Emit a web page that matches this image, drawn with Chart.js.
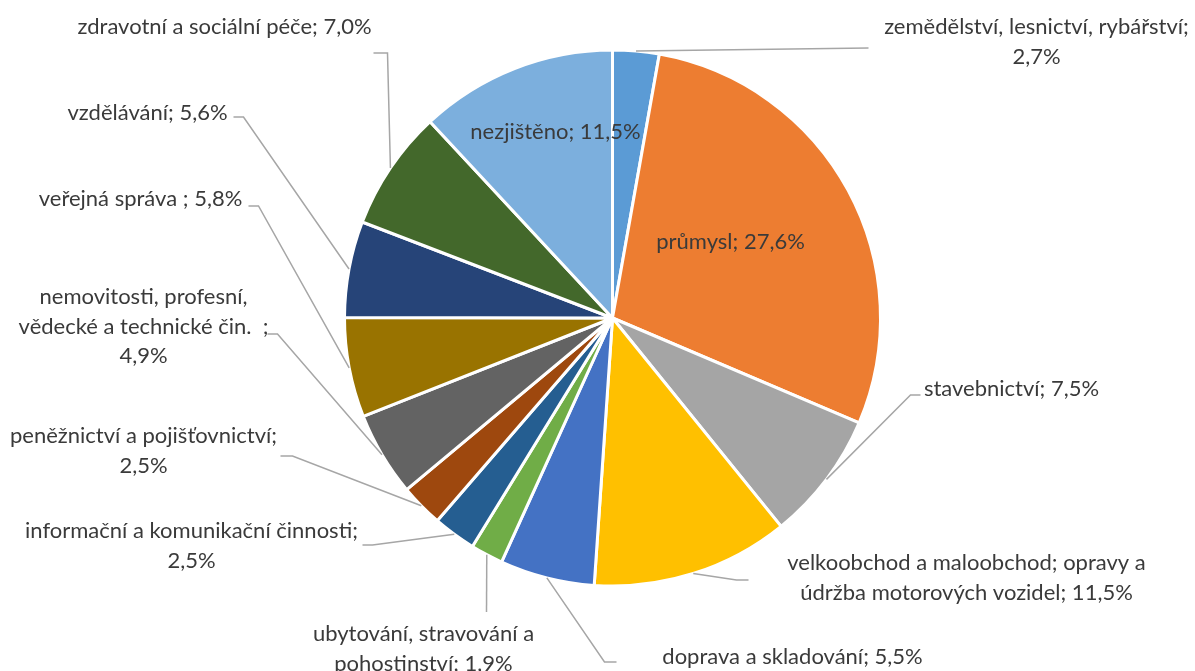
<!DOCTYPE html>
<html>
<head>
<meta charset="utf-8">
<script src="https://cdn.jsdelivr.net/npm/chart.js@4/dist/chart.umd.min.js"></script>
<style>
  html, body { margin: 0; padding: 0; background: #ffffff; }
  #wrap { width: 1195px; height: 671px; position: relative; }
</style>
</head>
<body>
<div id="wrap"><canvas id="c" width="1195" height="671"></canvas></div>
<script>
// ---- data ----
const categories = [
  "zemědělství, lesnictví, rybářství",
  "průmysl",
  "stavebnictví",
  "velkoobchod a maloobchod; opravy a údržba motorových vozidel",
  "doprava a skladování",
  "ubytování, stravování a pohostinství",
  "informační a komunikační činnosti",
  "peněžnictví a pojišťovnictví",
  "nemovitosti, profesní, vědecké a technické čin.",
  "veřejná správa",
  "vzdělávání",
  "zdravotní a sociální péče",
  "nezjištěno"
];
const values = [2.7, 27.6, 7.5, 11.5, 5.5, 1.9, 2.5, 2.5, 4.9, 5.8, 5.6, 7.0, 11.5];
const valueLabels = ["2,7%", "27,6%", "7,5%", "11,5%", "5,5%", "1,9%", "2,5%", "2,5%", "4,9%", "5,8%", "5,6%", "7,0%", "11,5%"];
// label text lines as shown in the chart
const labelLines = [
  ["zemědělství, lesnictví, rybářství;", "2,7%"],
  ["průmysl; 27,6%"],
  ["stavebnictví; 7,5%"],
  ["velkoobchod a maloobchod; opravy a", "údržba motorových vozidel; 11,5%"],
  ["doprava a skladování; 5,5%"],
  ["ubytování, stravování a", "pohostinství; 1,9%"],
  ["informační a komunikační činnosti;", "2,5%"],
  ["peněžnictví a pojišťovnictví;", "2,5%"],
  ["nemovitosti, profesní,", "vědecké a technické čin.  ;", "4,9%"],
  ["veřejná správa ; 5,8%"],
  ["vzdělávání; 5,6%"],
  ["zdravotní a sociální péče; 7,0%"],
  ["nezjištěno; 11,5%"]
];
const colors = ["#5B9BD5", "#ED7D31", "#A5A5A5", "#FFC000", "#4472C4", "#70AD47", "#255E91",
                "#9E480E", "#636363", "#997300", "#264478", "#43682B", "#7CAFDD"];

// ---- label layout (offsets relative to pie centre) ----
// text: centre of first line; leader: points after the arc anchor
const layout = [
  { text: [424, -291], leader: [[256, -270]] },
  { text: [118, -76], leader: null },
  { text: [399, 71], leader: [[298, 77], [308, 77]] },
  { text: [354, 245], leader: [[124, 262], [136, 262]] },
  { text: [180, 339], leader: [[-8, 344], [4, 344]] },
  { text: [-189, 316], leader: [[-126, 294]] },
  { text: [-421, 213], leader: [[-240, 227], [-250, 227]] },
  { text: [-469, 118], leader: [[-320, 138], [-332, 138]] },
  { text: [-469, -21], leader: [[-335, 16], [-345, 16]] },
  { text: [-472, -119], leader: [[-354, -112], [-364, -112]] },
  { text: [-465, -205], leader: [[-369, -201], [-379, -201]] },
  { text: [-388, -291], leader: [[-225, -265], [-239, -265]] },
  { text: [-57, -186], leader: null }
];

const FONT_FAMILY = "Lato, 'Open Sans', sans-serif";
const FONT_SIZE = 22;
const LINE_H = 29.5;

const labelPlugin = {
  id: 'excelLabels',
  afterDatasetsDraw(chart) {
    const ctx = chart.ctx;
    const meta = chart.getDatasetMeta(0);
    ctx.save();
    meta.data.forEach((arc, i) => {
      const p = arc.getProps(['x', 'y', 'startAngle', 'endAngle', 'outerRadius'], true);
      const mid = (p.startAngle + p.endAngle) / 2;
      const ax = p.x + Math.cos(mid) * p.outerRadius;
      const ay = p.y + Math.sin(mid) * p.outerRadius;
      const L = layout[i];
      if (L.leader) {
        ctx.beginPath();
        ctx.strokeStyle = '#A6A6A6';
        ctx.lineWidth = 1.5;
        ctx.moveTo(ax, ay);
        L.leader.forEach(pt => ctx.lineTo(p.x + pt[0], p.y + pt[1]));
        ctx.stroke();
      }
      ctx.fillStyle = '#3A3A3A';
      ctx.font = FONT_SIZE + 'px ' + FONT_FAMILY;
      ctx.textAlign = 'center';
      ctx.textBaseline = 'middle';
      labelLines[i].forEach((line, k) => {
        ctx.fillText(line, p.x + L.text[0], p.y + L.text[1] + k * LINE_H);
      });
    });
    ctx.restore();
  }
};

new Chart(document.getElementById('c'), {
  type: 'pie',
  data: {
    labels: categories,
    datasets: [{
      data: values,
      backgroundColor: colors,
      borderColor: '#FFFFFF',
      borderWidth: 3
    }]
  },
  options: {
    responsive: false,
    animation: false,
    devicePixelRatio: 1,
    layout: { padding: { left: 343, right: 313, top: 47, bottom: 82 } },
    plugins: {
      legend: { display: false },
      tooltip: { enabled: false }
    }
  },
  plugins: [labelPlugin]
});
</script>
</body>
</html>
